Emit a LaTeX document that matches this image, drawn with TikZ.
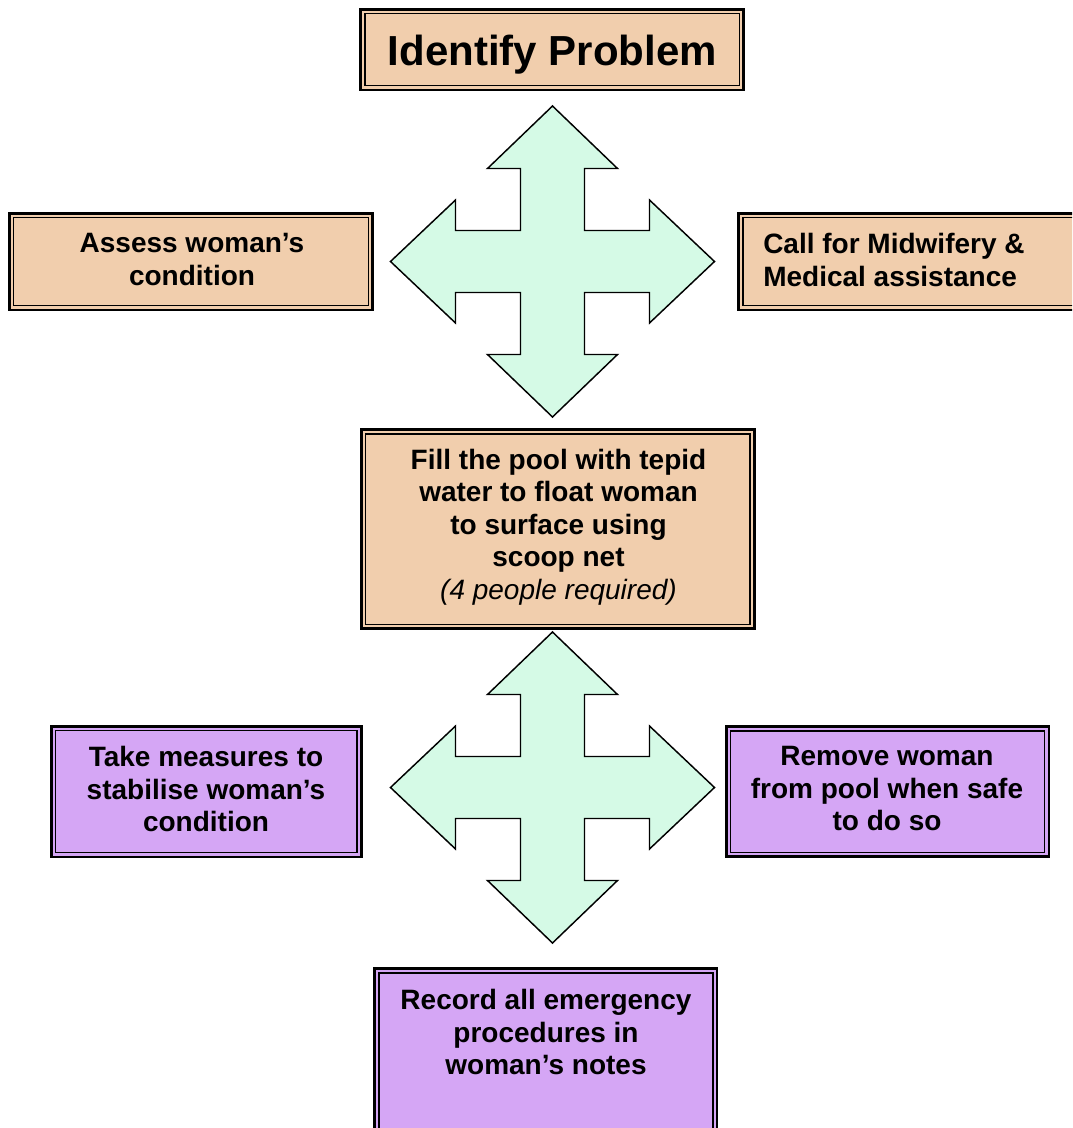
\documentclass[tikz,border=0pt]{standalone}
\usepackage{fontspec}
\setmainfont{Liberation Sans}
\definecolor{peach}{RGB}{241,206,173}
\definecolor{lilac}{RGB}{213,166,245}
\definecolor{mint}{RGB}{213,250,230}
\tikzset{
  box/.style={rectangle, draw=black, line width=1.9pt, inner sep=0pt, outer sep=0pt,
    path picture={\draw[line width=1.1pt]
      ([shift={(3.2pt,-3.2pt)}]path picture bounding box.north west) rectangle
      ([shift={(-3.2pt,3.2pt)}]path picture bounding box.south east);}},
  peachbox/.style={box, fill=peach},
  lilacbox/.style={box, fill=lilac},
  txt/.style={font=\bfseries\fontsize{21}{24.4}\selectfont, align=center, inner sep=0pt, anchor=north},
  crossfill/.style={fill=mint, draw=black, line width=1.1pt, line join=miter},
  pics/crossarrow/.style={code={
    \draw[crossfill] (0,-155.5) -- (65,-93) -- (32,-93) -- (32,-31) -- (97,-31) -- (97,-61.5)
      -- (162,0) -- (97,61.5) -- (97,31) -- (32,31) -- (32,93) -- (65,93) -- (0,155.5)
      -- (-65,93) -- (-32,93) -- (-32,31) -- (-97,31) -- (-97,61.5) -- (-162,0)
      -- (-97,-61.5) -- (-97,-31) -- (-32,-31) -- (-32,-93) -- (-65,-93) -- cycle;
  }}
}
\begin{document}
\begin{tikzpicture}[x=0.75pt, y=-0.75pt]
\useasboundingbox (0,0) rectangle (1072,1128);
\clip (0,0) rectangle (1072,1128);

% boxes
\node[peachbox, minimum width=287.25pt, minimum height=60.4pt] (bTop) at (552.25,49.5) {};
\node[peachbox, minimum width=272.6pt, minimum height=72.4pt] (bAssess) at (191,261.5) {};
\node[peachbox, minimum width=277.5pt, minimum height=72.4pt] (bCall) at (923.75,261.5) {};
\node[peachbox, minimum width=294.75pt, minimum height=149.4pt] (bFill) at (557.75,529.15) {};
\node[lilacbox, minimum width=232.65pt, minimum height=97.9pt] (bTake) at (206.35,791.5) {};
\node[lilacbox, minimum width=241.9pt, minimum height=97.65pt] (bRemove) at (887.5,791.65) {};
\node[lilacbox, minimum width=256.9pt, minimum height=135.15pt] (bRecord) at (545.8,1058.65) {};

% texts
\node[txt, font=\bfseries\fontsize{31.5}{36}\selectfont] (tTop) at (552.25,35) {Identify Problem};
\node[txt] (tAssess) at (192,233) {Assess woman’s\\condition};
\node[txt, anchor=north west, align=left] (tCall) at (763,233) {Call for Midwifery \&\\Medical assistance};
\node[txt] (tFill) at (558.5,448.5) {Fill the pool with tepid\\water to float woman\\to surface using\\scoop net\\{\mdseries\itshape (4 people required)}};
\node[txt] (tTake) at (206,746) {Take measures to\\stabilise woman’s\\condition};
\node[txt] (tRemove) at (887,746) {Remove woman\\from pool when safe\\to do so};
\node[txt] (tRecord) at (546,989) {Record all emergency\\procedures in\\woman’s notes};

% four-way arrows
\pic (crossA) at (552.5,261.5) {crossarrow};
\pic (crossB) at (552.5,787.5) {crossarrow};
\end{tikzpicture}
\end{document}
